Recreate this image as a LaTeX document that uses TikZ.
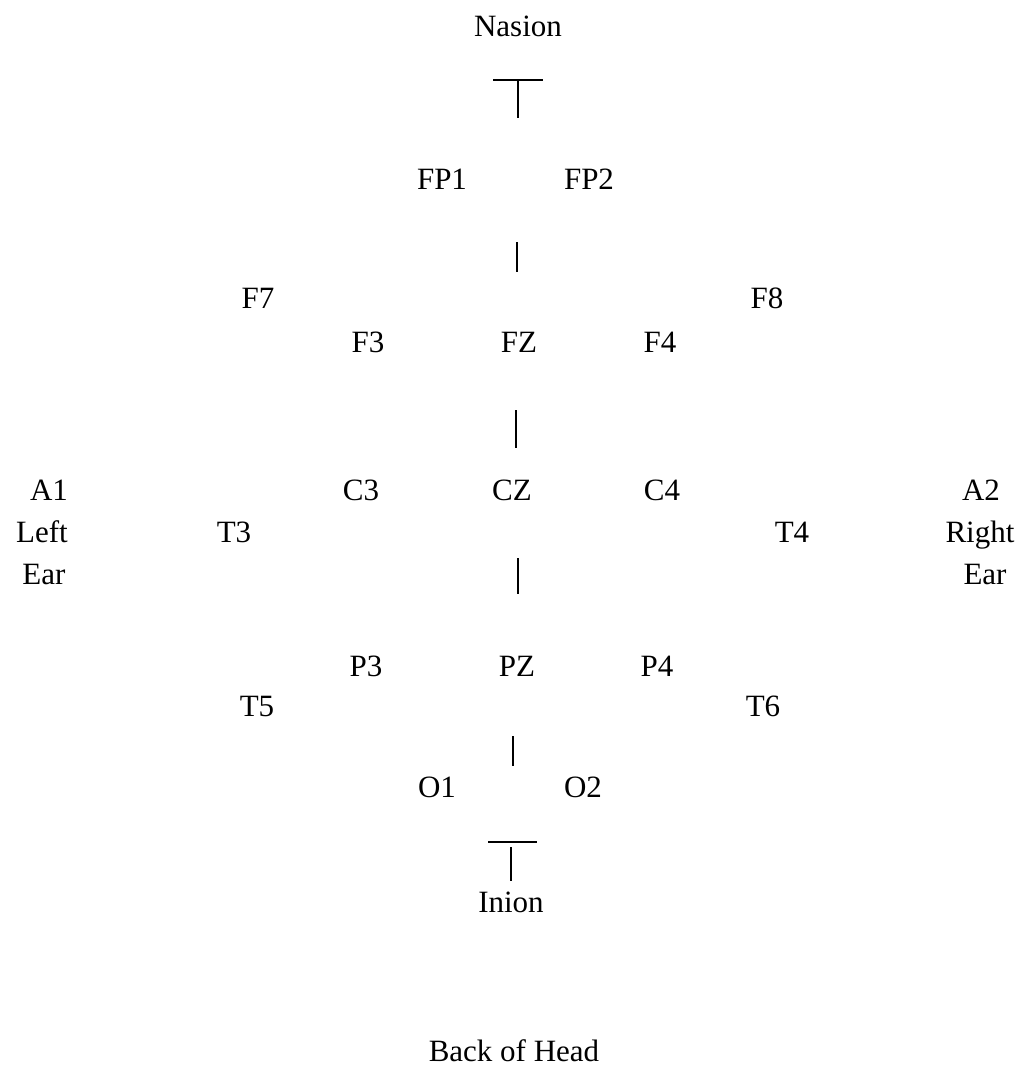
\documentclass[tikz,border=0pt]{standalone}
\usepackage{fontspec}
\setmainfont{Liberation Serif}
\begin{document}
\begin{tikzpicture}[x=1pt,y=-1pt,
  lbl/.style={anchor=base,inner sep=0pt,font=\fontsize{31}{31}\selectfont},
  tick/.style={line width=2.6pt,line cap=butt}]
\useasboundingbox (0,0) rectangle (1024,1068);
% head landmarks
\node[lbl] (nasion) at (518,36) {Nasion};
\node[lbl] (inion) at (511,912) {Inion};
\node[lbl] (back) at (514,1061) {Back of Head};
% T markers
\coordinate (ntl) at (493,80);
\coordinate (ntr) at (543,80);
\coordinate (nts) at (518,80);
\coordinate (ntb) at (518,118);
\draw[tick] (ntl) -- (ntr);
\draw[tick] (nts) -- (ntb);
\coordinate (itl) at (488,842);
\coordinate (itr) at (537,842);
\coordinate (its) at (511,847);
\coordinate (itb) at (511,881);
\draw[tick] (itl) -- (itr);
\draw[tick] (its) -- (itb);
% electrode sites
\node[lbl] (fp1) at (442,189) {FP1};
\node[lbl] (fp2) at (589,189) {FP2};
\node[lbl] (f7) at (258,308) {F7};
\node[lbl] (f8) at (767,308) {F8};
\node[lbl] (f3) at (368,352) {F3};
\node[lbl] (fz) at (519,352) {FZ};
\node[lbl] (f4) at (660,352) {F4};
\node[lbl] (a1) at (49,500) {A1};
\node[lbl] (c3) at (361,500) {C3};
\node[lbl] (cz) at (512,500) {CZ};
\node[lbl] (c4) at (662,500) {C4};
\node[lbl] (a2) at (981,500) {A2};
\node[lbl] (left) at (42,542) {Left};
\node[lbl] (t3) at (234,542) {T3};
\node[lbl] (t4) at (792,542) {T4};
\node[lbl] (right) at (980,542) {Right};
\node[lbl] (earl) at (44,584) {Ear};
\node[lbl] (earr) at (985,584) {Ear};
\node[lbl] (p3) at (366,676) {P3};
\node[lbl] (pz) at (517,676) {PZ};
\node[lbl] (p4) at (657,676) {P4};
\node[lbl] (t5) at (257,716) {T5};
\node[lbl] (t6) at (763,716) {T6};
\node[lbl] (o1) at (437,797) {O1};
\node[lbl] (o2) at (583,797) {O2};
% midline ticks
\coordinate (m1a) at (517,242); \coordinate (m1b) at (517,272);
\coordinate (m2a) at (516,410); \coordinate (m2b) at (516,448);
\coordinate (m3a) at (518,558); \coordinate (m3b) at (518,594);
\coordinate (m4a) at (513,736); \coordinate (m4b) at (513,766);
\draw[tick] (m1a) -- (m1b);
\draw[tick] (m2a) -- (m2b);
\draw[tick] (m3a) -- (m3b);
\draw[tick] (m4a) -- (m4b);
\end{tikzpicture}
\end{document}
